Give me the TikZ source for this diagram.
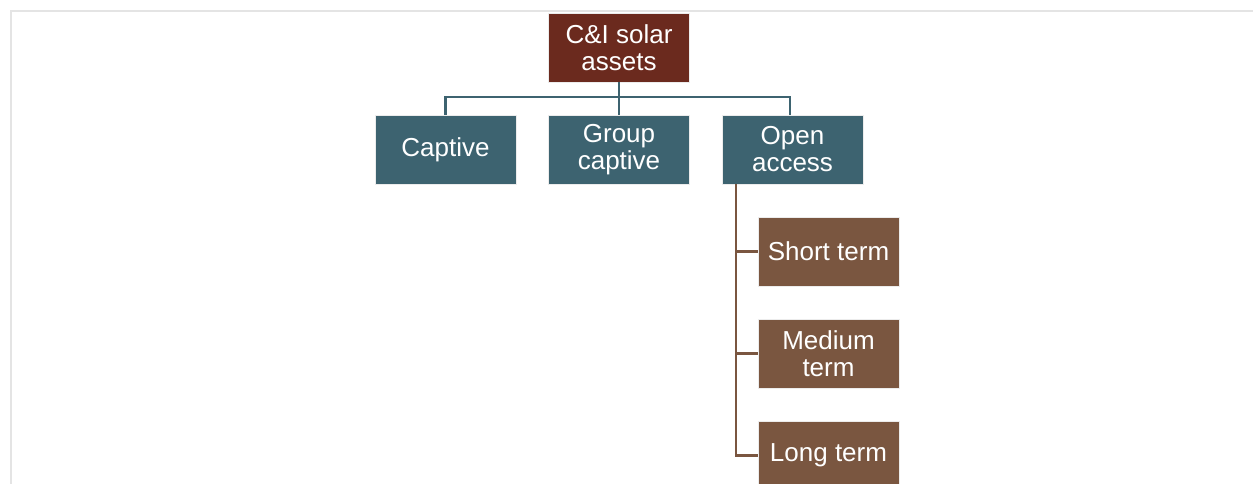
\documentclass[tikz,border=0pt]{standalone}
\usepackage{fontspec}
\setmainfont{Liberation Sans}
\definecolor{rootc}{RGB}{107,42,30}
\definecolor{tealc}{RGB}{61,99,112}
\definecolor{brownc}{RGB}{122,86,64}
\definecolor{framec}{RGB}{228,228,228}
\begin{document}
\begin{tikzpicture}[x=1pt,y=-1pt,
  boxbase/.style={rectangle, minimum width=141pt, minimum height=69pt, inner sep=0pt,
    text=white, align=center, font=\fontsize{26}{27}\selectfont, draw=white!85!gray, line width=0.6pt},
  rootbox/.style={boxbase, fill=rootc},
  lvlbox/.style={boxbase, fill=tealc},
  subbox/.style={boxbase, fill=brownc},
  tealline/.style={draw=tealc, line width=2.5pt},
  brownline/.style={draw=brownc, line width=2.5pt}]
\useasboundingbox (0,0) rectangle (1253,484);
\clip (0,0) rectangle (1253,484);
\draw[framec, line width=2pt] (11,490) -- (11,11) -- (1260,11);
\node[rootbox] (root) at (619,47.5) {C\&I solar\\assets};
\node[lvlbox] (captive) at (445.5,149.5) {Captive};
\node[lvlbox] (group) at (619,149.5) {Group\\captive};
\node[lvlbox] (open) at (792.5,149.5) {Open\\access};
\node[subbox] (short) at (828.5,251.5) {Short term};
\node[subbox] (medium) at (828.5,353.5) {Medium\\term};
\node[subbox] (long) at (828.5,455.5) {Long term};
\coordinate (bus) at (619,97);
\draw[tealline] (root.south) -- (group.north);
\draw[tealline] (captive.north) -- (captive.north |- bus) -- ([xshift=-2.5pt]open.north |- bus) -- ([xshift=-2.5pt]open.north);
\coordinate (trunk) at ([xshift=-56.5pt]open.south);
\draw[brownline] (trunk) |- (long.west);
\draw[brownline] (trunk |- short.west) -- (short.west);
\draw[brownline] (trunk |- medium.west) -- (medium.west);
\end{tikzpicture}
\end{document}
